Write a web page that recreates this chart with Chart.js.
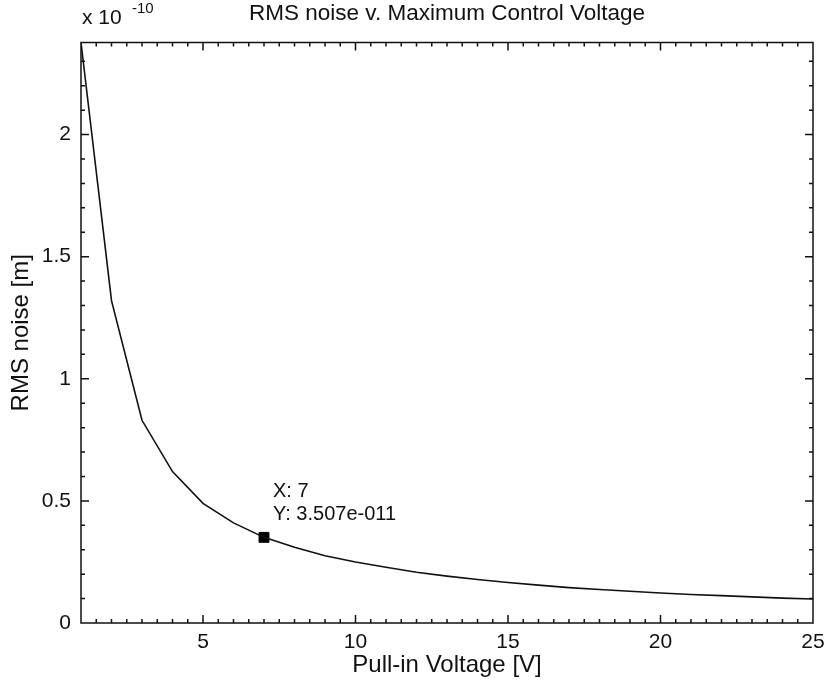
<!DOCTYPE html>
<html>
<head>
<meta charset="utf-8">
<script src="https://cdn.jsdelivr.net/npm/chart.js@4.4.1/dist/chart.umd.min.js"></script>
<style>
  html, body { margin: 0; padding: 0; background: #fff; }
  #wrap { width: 827px; height: 687px; }
</style>
</head>
<body>
<div id="wrap"><canvas id="noiseChart"></canvas></div>
<script>
// Données
const voltages = [1, 2, 3, 4, 5, 6, 7, 8, 9, 10, 11, 12, 13, 14, 15, 16, 17, 18, 19, 20, 21, 22, 23, 24, 25];
const rmsNoise = [
    2.377e-10, 1.32e-10, 0.83e-10, 0.62e-10, 0.49e-10, 0.41e-10, 0.3507e-10, 0.31e-10,
    0.275e-10, 0.25e-10, 0.228e-10, 0.208e-10, 0.192e-10, 0.178e-10, 0.166e-10, 0.155e-10,
    0.145e-10, 0.137e-10, 0.13e-10, 0.123e-10, 0.117e-10, 0.112e-10, 0.107e-10, 0.102e-10, 0.098e-10
];
const xTicks = [5, 10, 15, 20, 25];
const yTicks = [0, 0.5e-10, 1e-10, 1.5e-10, 2e-10];
const tipPoint = { x: 7, y: 3.507e-11 };
const tipLines = ['X: 7', 'Y: 3.507e-011'];

const FONT = 'Liberation Sans, Arial, sans-serif';

// Cadre façon MATLAB : boite, graduations vers l'intérieur, exposant, datatip
const matlabBox = {
    id: 'matlabBox',
    afterDraw(chart) {
        const { ctx, chartArea: a, scales } = chart;
        const x = scales.x, y = scales.y;
        ctx.save();
        ctx.strokeStyle = '#111';
        ctx.lineWidth = 1.5;
        ctx.strokeRect(a.left, a.top, a.right - a.left, a.bottom - a.top);

        ctx.beginPath();
        for (let v = 1.5; v < 25; v += 0.5) {
            const len = xTicks.includes(v) ? 8 : 4;
            const px = x.getPixelForValue(v);
            ctx.moveTo(px, a.bottom); ctx.lineTo(px, a.bottom - len);
            ctx.moveTo(px, a.top); ctx.lineTo(px, a.top + len);
        }
        for (let i = 1; i * 0.1e-10 < y.max; i++) {
            const v = i * 0.1e-10;
            const len = i % 5 === 0 ? 8 : 4;
            const py = y.getPixelForValue(v);
            ctx.moveTo(a.left, py); ctx.lineTo(a.left + len, py);
            ctx.moveTo(a.right, py); ctx.lineTo(a.right - len, py);
        }
        ctx.stroke();

        // exposant de l'axe y
        ctx.fillStyle = '#111';
        ctx.textBaseline = 'alphabetic';
        ctx.textAlign = 'left';
        ctx.font = '21px ' + FONT;
        ctx.fillText('x 10', a.left + 1, a.top - 19);
        ctx.font = '15px ' + FONT;
        ctx.fillText('-10', a.left + 51, a.top - 30);

        // texte du datatip
        const tx = x.getPixelForValue(tipPoint.x) + 9;
        const ty = y.getPixelForValue(tipPoint.y);
        ctx.font = '20px ' + FONT;
        ctx.textBaseline = 'middle';
        ctx.fillText(tipLines[0], tx, ty - 46);
        ctx.fillText(tipLines[1], tx, ty - 23);
        ctx.restore();
    }
};

const ctx = document.getElementById('noiseChart');
new Chart(ctx, {
    type: 'line',
    data: {
        datasets: [
            {
                label: 'RMS noise',
                data: voltages.map((v, i) => ({ x: v, y: rmsNoise[i] })),
                borderColor: '#111',
                borderWidth: 1.6,
                pointRadius: 0,
                tension: 0,
                fill: false
            },
            {
                label: 'datatip',
                data: [tipPoint],
                showLine: false,
                pointStyle: 'rect',
                pointRadius: 7,
                backgroundColor: '#000',
                borderColor: '#000'
            }
        ]
    },
    options: {
        responsive: true,
        maintainAspectRatio: false,
        animation: false,
        layout: { padding: { right: 14, left: 0, top: 0, bottom: 0 } },
        scales: {
            x: {
                type: 'linear',
                min: 1,
                max: 25,
                afterFit: s => {
                    s.height = 64;
                    s.paddingLeft = 0;
                    s.paddingRight = 0;
                },
                afterBuildTicks: s => { s.ticks = xTicks.map(v => ({ value: v })); },
                grid: { display: false, drawTicks: false },
                border: { display: false },
                ticks: {
                    padding: 7,
                    color: '#111',
                    font: { family: FONT, size: 21 },
                    maxRotation: 0
                },
                title: {
                    display: true,
                    text: 'Pull-in Voltage [V]',
                    color: '#111',
                    font: { family: FONT, size: 24 },
                    padding: { top: 0, bottom: 7 }
                }
            },
            y: {
                min: 0,
                max: 2.377e-10,
                afterFit: s => {
                    s.width = 81;
                    s.paddingTop = 0;
                    s.paddingBottom = 0;
                },
                afterBuildTicks: s => { s.ticks = yTicks.map(v => ({ value: v })); },
                grid: { display: false, drawTicks: false },
                border: { display: false },
                ticks: {
                    padding: 10,
                    color: '#111',
                    font: { family: FONT, size: 21 },
                    callback: v => parseFloat((v / 1e-10).toFixed(2)).toString()
                },
                title: {
                    display: true,
                    text: 'RMS noise [m]',
                    color: '#111',
                    font: { family: FONT, size: 24 },
                    padding: { top: 7, bottom: 0 }
                }
            }
        },
        plugins: {
            legend: { display: false },
            tooltip: { enabled: false },
            title: {
                display: true,
                text: 'RMS noise v. Maximum Control Voltage',
                color: '#111',
                fullSize: false,
                font: { family: FONT, size: 22.5, weight: 'normal' },
                padding: { top: 0, bottom: 15.5 }
            }
        }
    },
    plugins: [matlabBox]
});
</script>
</body>
</html>
